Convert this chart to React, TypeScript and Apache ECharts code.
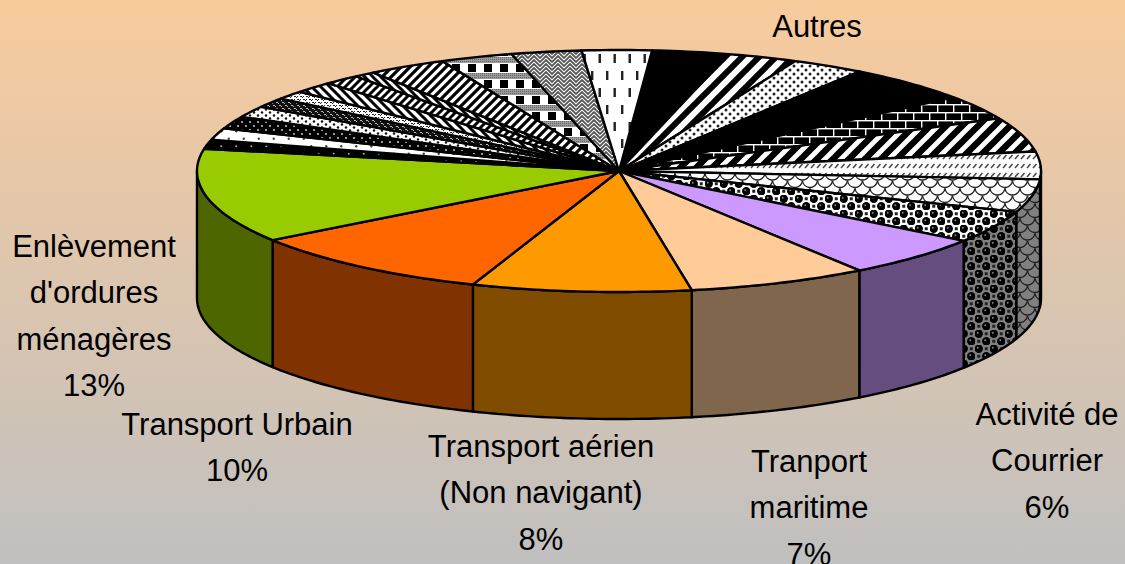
import React, { useEffect, useRef } from "react";
import * as echarts from "echarts";

const sliceNames = [
  "Autres a", "Autres b", "Autres c", "Autres d", "Autres e", "Autres f", "Autres g", "Autres h", "Autres i",
  "Activité de Courrier", "Tranport maritime", "Transport aérien (Non navigant)", "Transport Urbain",
  "Enlèvement d'ordures ménagères",
  "Autres j", "Autres k", "Autres l", "Autres m", "Autres n", "Autres o", "Autres p", "Autres q", "Autres r",
  "Autres s", "Autres t", "Autres u", "Autres v",
];
const sliceValues = [
  2.94, 2.69, 2.78, 4.94, 3.25, 4.61, 3.69, 4.39, 4.32,
  5.58, 6.9, 8.4, 9.72, 12.65,
  1.22, 1.56, 1.67, 1.5, 1.33, 1.14, 1.56, 1.39, 0.81,
  3.03, 2.78, 2.69, 2.67,
];
const labelBlocks = [
  { text: "Autres", cx: 817, cy: 26 },
  { text: "Enlèvement\nd'ordures\nménagères\n13%", cx: 94, cy: 246 },
  { text: "Transport Urbain\n10%", cx: 237, cy: 424 },
  { text: "Transport aérien\n(Non navigant)\n8%", cx: 541, cy: 446 },
  { text: "Tranport\nmaritime\n7%", cx: 809, cy: 461 },
  { text: "Activité de\nCourrier\n6%", cx: 1047, cy: 414 },
];

const CX = 619, CY = 171, RX = 422, RY = 121, DEPTH = 127, START_DEG = 4.5;
const LINE_H = 46.5;

type Draw = (c: CanvasRenderingContext2D, light: string) => void;
function tile(w: number, h: number, draw: Draw, light: string, bg?: string) {
  const cv = document.createElement("canvas");
  cv.width = w; cv.height = h;
  const c = cv.getContext("2d")!;
  c.fillStyle = bg ?? light;
  c.fillRect(0, 0, w, h);
  draw(c, light);
  return { image: cv, repeat: "repeat", imageWidth: w, imageHeight: h } as any;
}
function diag(up: boolean, p: number, w: number) {
  return (light: string) =>
    tile(p, p, (c) => {
      c.strokeStyle = "#000";
      c.lineWidth = w;
      c.lineCap = "square";
      for (const o of [-p, 0, p]) {
        c.beginPath();
        if (up) { c.moveTo(o - 2, p + 2); c.lineTo(o + p + 2, -2); }
        else { c.moveTo(o - 2, -2); c.lineTo(o + p + 2, p + 2); }
        c.stroke();
      }
    }, light);
}
function dotGrid(w: number, h: number, r: number, fg: string, bgBlack: boolean) {
  return (light: string) =>
    tile(w, h, (c) => {
      c.fillStyle = fg === "light" ? light : fg;
      for (const [x, y] of [[w / 4, h / 4], [(3 * w) / 4, (3 * h) / 4]]) {
        c.beginPath(); c.arc(x, y, r, 0, Math.PI * 2); c.fill();
      }
    }, light, bgBlack ? "#000" : light);
}
const solid = (_l: string) => "#000" as any;
const dashes = (light: string) =>
  tile(30, 34, (c) => {
    c.fillStyle = "#222";
    c.fillRect(6, 3, 2.4, 9); c.fillRect(21, 3, 2.4, 9);
    c.fillRect(13.5, 20, 2.4, 9); c.fillRect(28.5, 20, 1.5, 9); c.fillRect(0, 20, 1, 9);
  }, light);
const brick = (light: string) =>
  tile(16, 16, (c) => {
    c.fillStyle = light;
    c.fillRect(0, 0, 16, 1.4); c.fillRect(0, 8, 16, 1.4);
    c.fillRect(1, 0, 1.4, 8); c.fillRect(9, 8, 1.4, 8);
  }, light, "#000");
const smallDash = (light: string) =>
  tile(6, 9, (c) => {
    c.strokeStyle = "#444"; c.lineWidth = 1.5;
    c.beginPath(); c.moveTo(1, 6); c.lineTo(4.5, 2); c.stroke();
  }, light);
const scallop = (light: string) =>
  tile(15, 15, (c) => {
    c.strokeStyle = "#222"; c.lineWidth = 1.4;
    const arc = (x: number, y: number) => { c.beginPath(); c.arc(x, y, 7.5, 0.1, Math.PI - 0.1); c.stroke(); };
    arc(0, 0); arc(15, 0); arc(7.5, 7.5);
    c.beginPath(); c.arc(7.5, -7.5, 7.5, 0.1, Math.PI - 0.1); c.stroke();
  }, light);
const balls = (light: string) =>
  tile(15, 15, (c) => {
    for (const [x, y] of [[3.75, 3.75], [11.25, 11.25]]) {
      c.fillStyle = "#000";
      c.beginPath(); c.arc(x, y, 4.2, 0, Math.PI * 2); c.fill();
      c.fillStyle = "#888";
      c.beginPath(); c.arc(x - 1, y - 1, 0.9, 0, Math.PI * 2); c.fill();
    }
    c.fillStyle = "#222";
    for (const [x, y] of [[11.25, 3.75], [3.75, 11.25]]) { c.fillRect(x - 1.5, y - 1.5, 3, 3); }
  }, light);
const checker = (light: string) =>
  tile(16, 16, (c) => {
    c.fillStyle = "#000"; c.fillRect(4, 0, 8, 8);
    c.fillStyle = "#9a9a9a"; c.fillRect(0, 9, 16, 6);
    c.fillStyle = "#666";
    for (let x = 0; x < 16; x += 2) for (let y = 9; y < 15; y += 2) c.fillRect(x, y, 1, 1);
  }, light);
const zigzag = (light: string) =>
  tile(12, 8, (c) => {
    c.strokeStyle = "#555"; c.lineWidth = 1.8;
    for (const dy of [-8, -4, 0, 4, 8]) {
      c.beginPath();
      c.moveTo(-1, dy + 7); c.lineTo(6, dy); c.lineTo(13, dy + 7);
      c.stroke();
    }
  }, light);
const speckle = (dark: boolean) => (light: string) =>
  tile(6, 6, (c) => {
    c.fillStyle = dark ? "#bbb" : "#222";
    c.fillRect(0, 0, 2, 1); c.fillRect(3, 3, 2, 1); c.fillRect(2, 1, 1, 1); c.fillRect(5, 4, 1, 1);
    if (!dark) { c.fillRect(0, 3, 1, 1); c.fillRect(3, 0, 1, 1); }
  }, light, dark ? "#111" : light);

// top fill and wall fill of each slice, in the order of sliceValues
const flat = (top: string, side: string) => ({ top: () => top, side: () => side });
const pat = (f: (l: string) => any) => {
  const t = f("#ffffff"), s = f("#808080");
  return { top: () => t, side: () => s };
};
const sliceLooks = [
  pat(solid), pat(diag(true, 17, 6)), pat(dotGrid(8, 8, 1.5, "#222", false)), pat(solid), pat(brick),
  pat(diag(true, 16, 6.5)), pat(smallDash), pat(scallop), pat(balls),
  flat("#CC99FF", "#664D80"), flat("#FFCC99", "#80664D"), flat("#FF9900", "#804D00"),
  flat("#FF6600", "#803300"), flat("#99CC00", "#4D6600"),
  pat(dotGrid(15, 15, 1, "#aaa", true)), pat(dotGrid(15, 15, 1.2, "#444", false)),
  pat(dotGrid(8, 8, 1, "#ccc", true)), pat(dotGrid(8, 6, 1.2, "#111", false)),
  pat(speckle(true)), pat(speckle(false)),
  pat(diag(false, 9, 3)), pat(diag(true, 8, 3)), pat(diag(false, 8, 3)), pat(diag(true, 9, 3.2)),
  pat(checker), pat(zigzag), pat(dashes),
];

const total = sliceValues.reduce((a, b) => a + b, 0);
let running = START_DEG;
const sliceData = sliceValues.map((v, i) => {
  const a = running;
  running += (v / total) * 360;
  return { name: sliceNames[i], value: [a, running] };
});

const rim = (deg: number, dy = 0): number[] => {
  const t = (deg * Math.PI) / 180;
  return [CX + RX * Math.sin(t), CY - RY * Math.cos(t) + dy];
};
function arcPoints(a: number, b: number, dy = 0) {
  const n = Math.max(2, Math.ceil(b - a));
  const pts: number[][] = [];
  for (let i = 0; i <= n; i++) pts.push(rim(a + ((b - a) * i) / n, dy));
  return pts;
}

const renderItem = (params: any, api: any) => {
  const a = api.value(0), b = api.value(1);
  const look = sliceLooks[params.dataIndex];
  const stroke = { stroke: "#000", lineWidth: 2.4, lineJoin: "round" };
  const children: any[] = [];
  const wa = Math.max(a, 90), wb = Math.min(b, 270);
  if (wb > wa) {
    const upper = arcPoints(wa, wb);
    const lower = arcPoints(wa, wb, DEPTH).reverse();
    children.push({
      type: "polygon", z2: 1,
      shape: { points: [...upper, ...lower] },
      style: { fill: look.side(), ...stroke },
    });
  }
  children.push({
    type: "polygon", z2: 2,
    shape: { points: [[CX, CY], ...arcPoints(a, b)] },
    style: { fill: look.top(), ...stroke },
  });
  return { type: "group", children };
};

export default function App() {
  const ref = useRef<HTMLDivElement>(null);
  useEffect(() => {
    const chart = echarts.init(ref.current!, null, { renderer: "svg" });
    chart.setOption({
      animation: false,
      backgroundColor: {
        type: "linear", x: 0, y: 0, x2: 0, y2: 1,
        colorStops: [{ offset: 0, color: "#F8CB9D" }, { offset: 1, color: "#C0C0C0" }],
      },
      series: [{
        type: "custom", coordinateSystem: "none", silent: true, clip: false,
        renderItem, data: sliceData,
      }],
      graphic: {
        elements: labelBlocks.map((l) => ({
          type: "text", x: l.cx, y: l.cy - LINE_H / 2, z: 10,
          style: {
            text: l.text, textAlign: "center", textVerticalAlign: "top",
            fontFamily: "'Liberation Sans', Arial, sans-serif", fontSize: 31,
            lineHeight: LINE_H, fill: "#000",
          },
        })),
      },
    });
    return () => chart.dispose();
  }, []);
  return <div ref={ref} style={{ position: "fixed", left: 0, top: 0, width: 1125, height: 564 }} />;
}
